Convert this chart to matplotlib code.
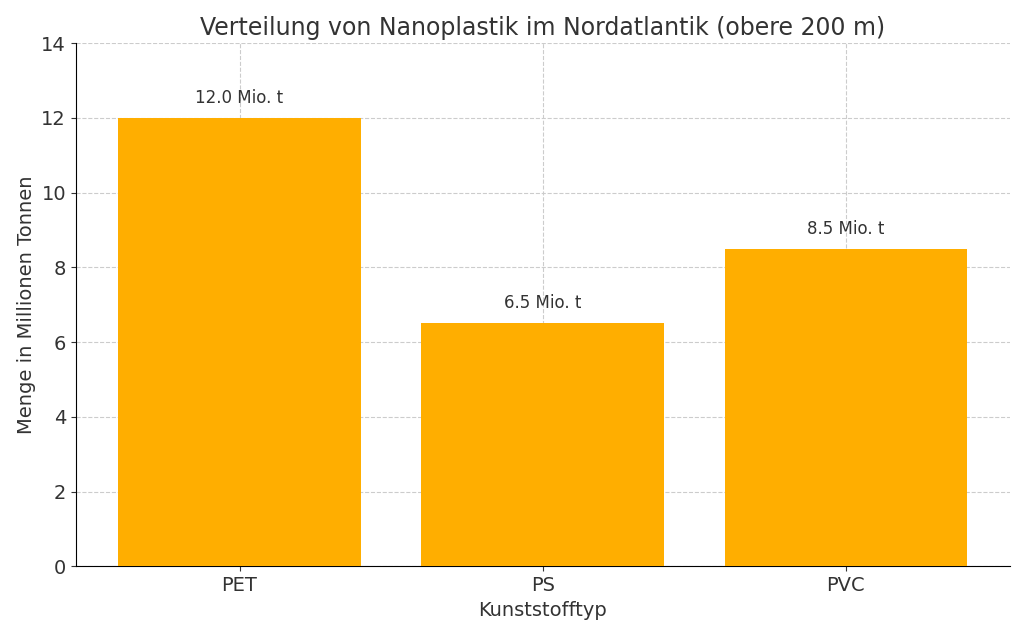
import matplotlib
matplotlib.use("Agg")
import matplotlib.pyplot as plt

categories = ["PET", "PS", "PVC"]
values = [12.0, 6.5, 8.5]
labels = ["12.0 Mio. t", "6.5 Mio. t", "8.5 Mio. t"]

fig = plt.figure(figsize=(10.24, 6.35), dpi=100)
ax = fig.add_axes([0.074, 0.108, 0.912, 0.824])
txt = "#333333"
ax.bar(categories, values, color="#FFAE00", width=0.8, zorder=3)
for i, (v, l) in enumerate(zip(values, labels)):
    ax.text(i, v + 0.3, l, ha="center", va="bottom", fontsize=12, color=txt)
ax.set_ylim(0, 14)
ax.set_yticks(range(0, 15, 2))
ax.grid(True, linestyle="--", color="#cccccc", linewidth=0.8, zorder=0)
ax.set_title("Verteilung von Nanoplastik im Nordatlantik (obere 200 m)", fontsize=17, color=txt, pad=6)
ax.set_xlabel("Kunststofftyp", fontsize=14, color=txt)
ax.set_ylabel("Menge in Millionen Tonnen", fontsize=14, color=txt)
ax.tick_params(labelsize=14, colors=txt)
ax.spines["top"].set_visible(False)
ax.spines["right"].set_visible(False)
fig.savefig("out.png", dpi=100)
